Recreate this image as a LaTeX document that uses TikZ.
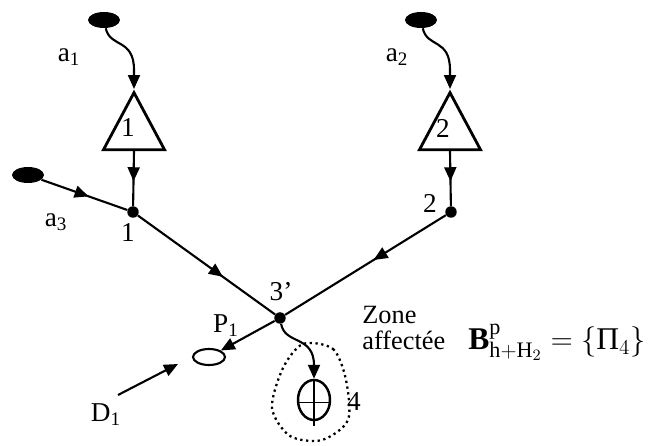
\documentclass[tikz,border=0pt]{standalone}
\usepackage{fontspec}
\setmainfont{Liberation Serif}
\usetikzlibrary{positioning,arrows.meta,shapes.geometric,decorations.markings}

\begin{document}
\begin{tikzpicture}[
  x=0.02cm, y=-0.02cm,
  dot/.style={circle,fill,inner sep=0pt,minimum size=2.3mm},
  src/.style={ellipse,fill,inner sep=0pt,minimum width=6.4mm,minimum height=3.2mm},
  tri/.style={isosceles triangle,shape border rotate=90,isosceles triangle stretches,
              draw,line width=1.6pt,inner sep=0pt,minimum width=12.2mm,minimum height=11.4mm},
  tip/.style={-{Triangle[length=2.8mm,width=2.4mm]}},
  arr/.style={line width=1.2pt,tip},
  mid/.style={line width=1.2pt,postaction={decorate},
              decoration={markings,mark=at position #1 with {\arrow{Triangle[length=2.8mm,width=2.4mm]}}}},
  lbl/.style={font=\fontsize{15.5}{15.5}\selectfont,inner sep=0pt},
]
\useasboundingbox (0,0) rectangle (654,446);

% sources
\node[src] (s1) at (104,20) {};
\node[src] (s2) at (421,20) {};
\node[src] (s3) at (28,175) {};
\node[lbl] (la1) at (69,57) {a\textsubscript{1}};
\node[lbl] (la2) at (397,57) {a\textsubscript{2}};
\node[lbl] (la3) at (56,222) {a\textsubscript{3}};

% triangles
\node[tri, anchor=apex] (t1) at (134,89) {};
\node[tri, anchor=apex] (t2) at (450,89) {};
\node[lbl] (lt1) at (128,128) {1};
\node[lbl] (lt2) at (443,128) {2};

% junctions
\node[dot] (n1) at (133,212) {};
\node[dot] (n2) at (451,212) {};
\node[dot] (n3) at (280,318) {};
\node[lbl] (ln1) at (128,233) {1};
\node[lbl] (ln2) at (430,203) {2};
\node[lbl] (ln3) at (281,292) {3'};

% P1 and the affected zone
\node[draw,ellipse,line width=1.2pt,inner sep=0pt,minimum width=6.4mm,minimum height=3.2mm] (p1) at (209,357) {};
\node[lbl] (lp1) at (226,326) {P\textsubscript{1}};
\node[draw,ellipse,line width=1.4pt,inner sep=0pt,minimum width=6.4mm,minimum height=8mm] (c4) at (314,400) {};
\node[lbl] (l4) at (354,402) {4};
\node[lbl] (ld1) at (106,415) {D\textsubscript{1}};
\coordinate (d1s) at (118,395);
\coordinate (d1e) at (178,364);

\node[lbl, font=\fontsize{15}{14.5}\selectfont, align=left, anchor=north west] (zone) at (362,306)
  {Zone\\affectée};
\node[lbl, anchor=base west, font=\fontsize{18}{18}\selectfont] (eq) at (468,350)
  {\textbf{B}$^{\mathrm{p}}_{\mathrm{h+H}_2}=\Bigl\{\mbox{Π}_4\Bigr\}$};

% connectors
\draw[arr] (s1) .. controls (110,48) and (134,38) .. (134,70) -- (t1.apex);
\draw[arr] (s2) .. controls (427,48) and (450,38) .. (450,70) -- (t2.apex);
\draw[mid=0.55] (t1.south) -- (n1);
\draw[mid=0.55] (t2.south) -- (n2);
\draw[mid=0.55] (s3) -- (n1);
\draw[mid=0.62] (n1) -- (n3);
\draw[mid=0.45] (n2) -- (n3);
\draw[arr] (n3) -- (p1);
\draw[arr] (d1s) -- (d1e);
\draw[arr] (n3) .. controls (285,345) and (314,335) .. (c4.north);

\draw[line width=0.9pt] (c4.north) -- ([yshift=-1mm]c4.south);
\draw[line width=0.9pt] ([yshift=-0.5mm]c4.west) -- ([yshift=-0.5mm]c4.east);
\draw[dotted,line width=1.3pt] plot[smooth cycle] coordinates
  {(303,344) (333,349) (346,380) (348,420) (322,440) (290,436) (272,408) (283,368)};
\end{tikzpicture}
\end{document}
